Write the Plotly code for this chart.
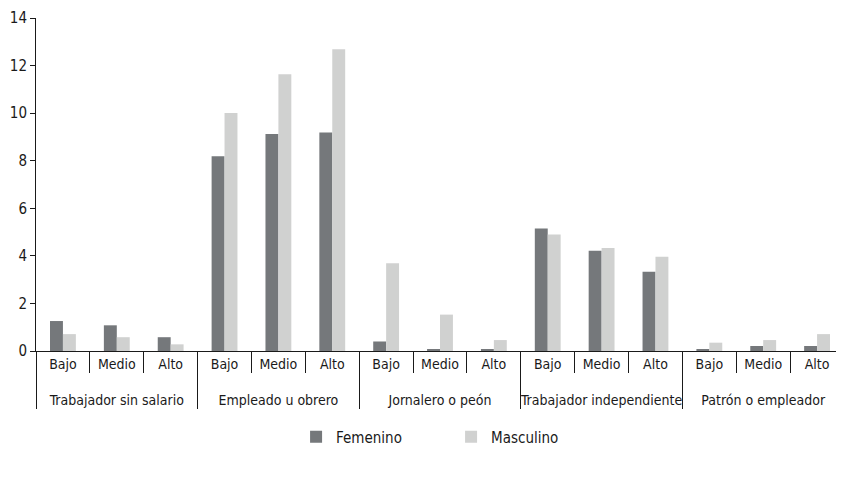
import plotly.graph_objects as go

groups = ["Trabajador sin salario", "Empleado u obrero", "Jornalero o peón",
          "Trabajador independiente", "Patrón o empleador"]
levels = ["Bajo", "Medio", "Alto"]

femenino = [1.26, 1.08, 0.58,
            8.19, 9.12, 9.19,
            0.40, 0.08, 0.08,
            5.15, 4.21, 3.33,
            0.08, 0.21, 0.21]
masculino = [0.71, 0.58, 0.28,
             10.01, 11.64, 12.69,
             3.69, 1.53, 0.46,
             4.90, 4.33, 3.96,
             0.35, 0.46, 0.71]

y_ticks = [0, 2, 4, 6, 8, 10, 12, 14]

x_outer = [g for g in groups for _ in levels]
# inner labels get an empty second line so the group row sits lower, as in the reference
x_inner = [lv + "<br>&nbsp;" for _ in groups for lv in levels]

FONT = "DejaVu Sans Condensed, Liberation Sans Narrow, sans-serif"
INK = "#1a1a1a"

fig = go.Figure()
fig.add_trace(go.Bar(x=[x_outer, x_inner], y=femenino, name="Femenino",
                     marker=dict(color="#75787b", line=dict(width=0))))
fig.add_trace(go.Bar(x=[x_outer, x_inner], y=masculino, name="Masculino",
                     marker=dict(color="#d0d1d0", line=dict(width=0))))

# page body has an 8px margin, so the figure is 836x472 inside the 844x480 window
fig.update_layout(
    width=836, height=472,
    margin=dict(l=28, r=0, t=10, b=129),
    paper_bgcolor="white", plot_bgcolor="white",
    font=dict(family=FONT, size=14, color=INK),
    barmode="group", bargap=0.52, bargroupgap=0,
    showlegend=True,
    legend=dict(orientation="h", xref="container", yref="container",
                x=0.53, y=0.091, xanchor="center", yanchor="middle",
                font=dict(size=15), entrywidth=110),
    xaxis=dict(type="multicategory", showline=True, linecolor=INK, linewidth=1,
               ticks="outside", ticklen=21, tickcolor=INK, tickangle=0,
               showdividers=True, dividercolor=INK, dividerwidth=1,
               showgrid=False, tickfont=dict(size=14), automargin=False),
    yaxis=dict(range=[0, 14], tickvals=y_ticks, showline=True, linecolor=INK,
               linewidth=1, ticks="outside", ticklen=5, tickcolor=INK,
               showgrid=False, zeroline=False, tickfont=dict(size=15), automargin=False,
               ticklabeloverflow="allow"),
)

fig.write_html("out.html")
